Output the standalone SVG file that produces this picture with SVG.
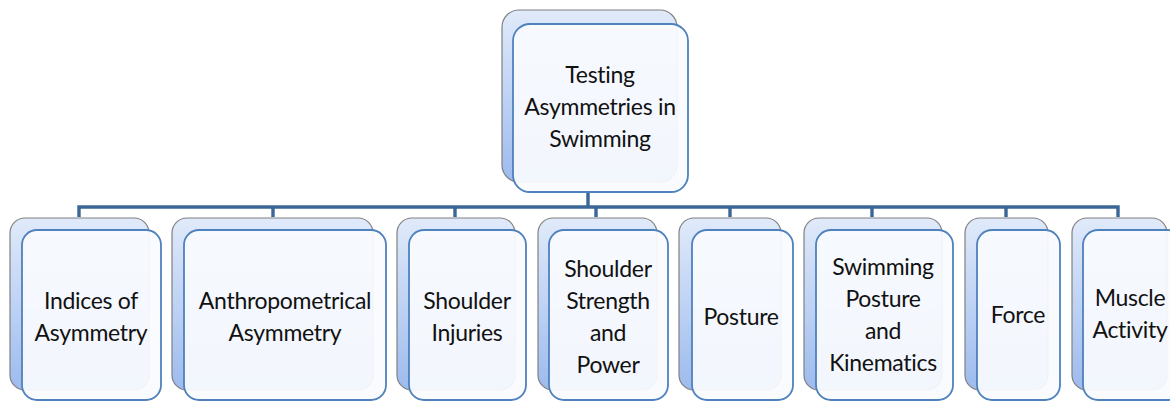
<svg xmlns="http://www.w3.org/2000/svg" width="1170" height="401" viewBox="0 0 1170 401">
<defs>
<linearGradient id="bg" x1="0" y1="0" x2="0" y2="1">
<stop offset="0" stop-color="#e0eafa"/>
<stop offset="1" stop-color="#9dbbee"/>
</linearGradient>
</defs>
<style>
.back{fill:url(#bg);stroke:#808080;stroke-width:1.2}
.front{fill:#f9fbfe;fill-opacity:0.93;stroke:#4f81bd;stroke-width:1.8}
.conn{fill:none;stroke:#3a6795;stroke-width:3.4}
text{font-family:Lato,"Liberation Sans",sans-serif;font-size:23px;fill:#111;text-anchor:middle;letter-spacing:-0.3px}
</style>
<rect width="1170" height="401" fill="#ffffff"/>
<g id="connectors">
<path class="conn" d="M588 192 V207 M79 217 V207 H1118 V217 M273 207 V217 M455 207 V217 M596 207 V217 M730 207 V217 M872 207 V217 M1006 207 V217"/>
</g>
<g id="root">
<rect class="back" x="502" y="10" width="175" height="172" rx="17"/>
<rect class="front" x="513" y="24" width="175" height="168" rx="17"/>
<text x="600" y="83">Testing</text>
<text x="600" y="115">Asymmetries in</text>
<text x="600" y="147">Swimming</text>
</g>
<g id="n1">
<rect class="back" x="10" y="218" width="139" height="172" rx="15"/>
<rect class="front" x="22" y="230" width="139" height="170" rx="15"/>
<text x="91" y="309">Indices of</text>
<text x="91" y="341">Asymmetry</text>
</g>
<g id="n2">
<rect class="back" x="172" y="218" width="201" height="172" rx="15"/>
<rect class="front" x="184" y="230" width="202" height="170" rx="15"/>
<text x="285" y="309">Anthropometrical</text>
<text x="285" y="341">Asymmetry</text>
</g>
<g id="n3">
<rect class="back" x="397" y="218" width="118" height="172" rx="15"/>
<rect class="front" x="409" y="230" width="117" height="170" rx="15"/>
<text x="467" y="309">Shoulder</text>
<text x="467" y="341">Injuries</text>
</g>
<g id="n4">
<rect class="back" x="538" y="218" width="119" height="172" rx="15"/>
<rect class="front" x="549" y="230" width="119" height="170" rx="15"/>
<text x="608" y="277">Shoulder</text>
<text x="608" y="309">Strength</text>
<text x="608" y="341">and</text>
<text x="608" y="373">Power</text>
</g>
<g id="n5">
<rect class="back" x="679" y="218" width="102" height="172" rx="15"/>
<rect class="front" x="692" y="230" width="101" height="170" rx="15"/>
<text x="741" y="325">Posture</text>
</g>
<g id="n6">
<rect class="back" x="804" y="218" width="138" height="172" rx="15"/>
<rect class="front" x="816" y="230" width="137" height="170" rx="15"/>
<text x="883" y="275">Swimming</text>
<text x="883" y="307">Posture</text>
<text x="883" y="339">and</text>
<text x="883" y="371">Kinematics</text>
</g>
<g id="n7">
<rect class="back" x="965" y="218" width="83" height="172" rx="15"/>
<rect class="front" x="977" y="230" width="83" height="170" rx="15"/>
<text x="1018" y="323">Force</text>
</g>
<g id="n8">
<rect class="back" x="1072" y="218" width="95" height="172" rx="15"/>
<rect class="front" x="1083" y="230" width="100" height="170" rx="15"/>
<text x="1130" y="306">Muscle</text>
<text x="1130" y="338">Activity</text>
</g>
</svg>
